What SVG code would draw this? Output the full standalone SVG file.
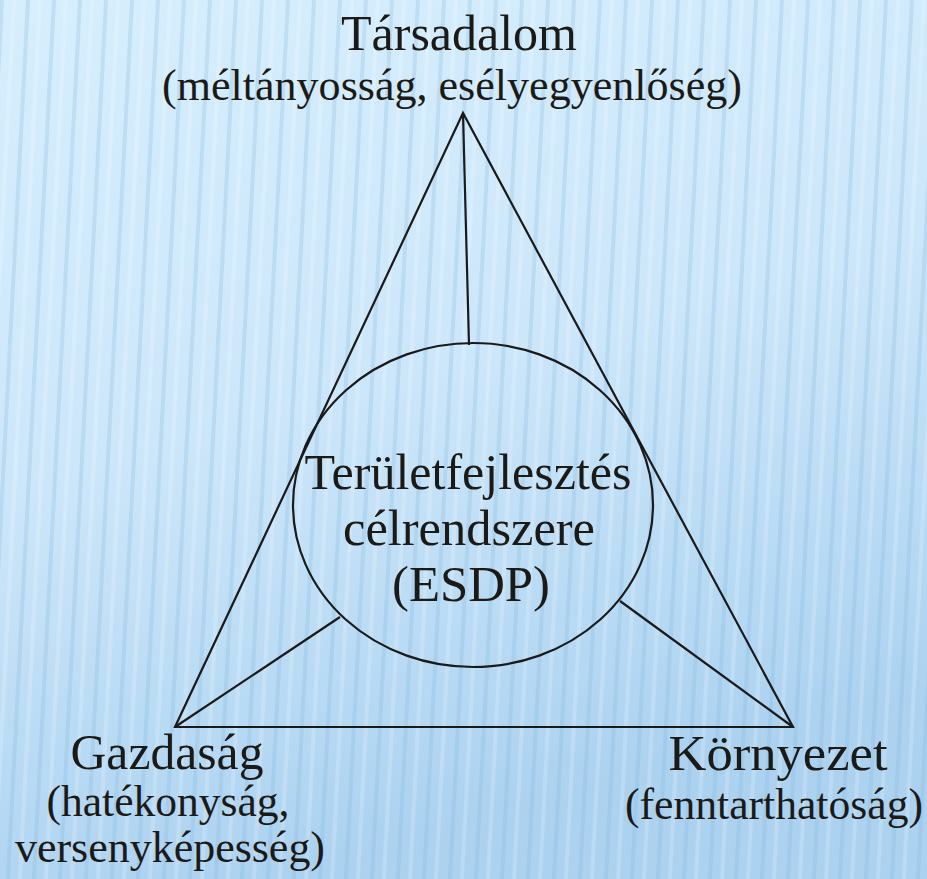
<svg xmlns="http://www.w3.org/2000/svg" width="927" height="879" viewBox="0 0 927 879">
<defs>
<linearGradient id="bg" x1="0" y1="0" x2="0.3" y2="1">
<stop offset="0" stop-color="#d6eefd"/>
<stop offset="0.5" stop-color="#cde7fa"/>
<stop offset="1" stop-color="#acd2f0"/>
</linearGradient>
<pattern id="stripes" width="26" height="879" patternUnits="userSpaceOnUse" patternTransform="skewX(-3)">
<rect x="0" y="0" width="4" height="879" fill="#7fb3dc" opacity="0.25"/>
<rect x="12" y="0" width="4" height="879" fill="#ffffff" opacity="0.18"/>
</pattern>
<style>
.ln{fill:none;stroke:#1a1a1a;stroke-width:2.2}
.t{font-family:"Liberation Serif","Times New Roman",serif;fill:#1c1a17;text-anchor:middle}
.h{font-size:51px}
.s{font-size:44px}
</style>
</defs>
<rect width="927" height="879" fill="url(#bg)"/>
<rect width="927" height="879" fill="url(#stripes)"/>
<g id="connectors">
<polygon class="ln" points="463,113 175,727 793,727"/>
<line class="ln" x1="463" y1="113" x2="469" y2="345"/>
<line class="ln" x1="175" y1="727" x2="340" y2="617"/>
<line class="ln" x1="620" y1="601" x2="793" y2="727"/>
</g>
<g id="center">
<ellipse class="ln" cx="473" cy="505" rx="180" ry="162"/>
<text class="t h" x="468" y="489" textLength="327" lengthAdjust="spacingAndGlyphs">Területfejlesztés</text>
<text class="t h" x="469" y="545" textLength="252" lengthAdjust="spacingAndGlyphs">célrendszere</text>
<text class="t h" x="471" y="601" textLength="158" lengthAdjust="spacingAndGlyphs">(ESDP)</text>
</g>
<g id="tarsadalom">
<text class="t h" x="459" y="50" textLength="236" lengthAdjust="spacingAndGlyphs">Társadalom</text>
<text class="t s" x="452" y="100" textLength="580" lengthAdjust="spacingAndGlyphs">(méltányosság, esélyegyenlőség)</text>
</g>
<g id="gazdasag">
<text class="t h" x="167" y="769" textLength="193" lengthAdjust="spacingAndGlyphs">Gazdaság</text>
<text class="t s" x="168" y="816" textLength="243" lengthAdjust="spacingAndGlyphs">(hatékonyság,</text>
<text class="t s" x="170" y="862" textLength="310" lengthAdjust="spacingAndGlyphs">versenyképesség)</text>
</g>
<g id="kornyezet">
<text class="t h" x="778" y="770" textLength="219" lengthAdjust="spacingAndGlyphs">Környezet</text>
<text class="t s" x="774" y="819" textLength="298" lengthAdjust="spacingAndGlyphs">(fenntarthatóság)</text>
</g>
</svg>
